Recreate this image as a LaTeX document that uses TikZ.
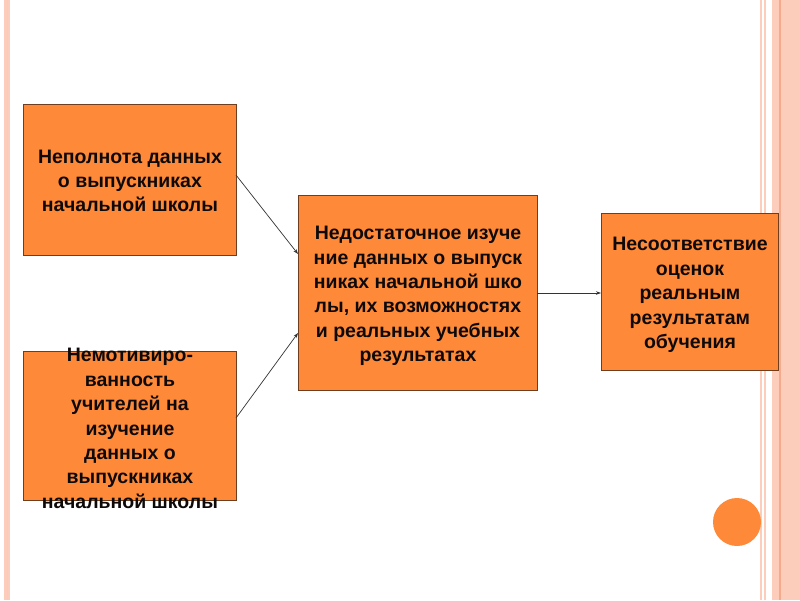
\documentclass[tikz,border=0pt]{standalone}
\usepackage{fontspec}
\setmainfont{Liberation Sans}
\usetikzlibrary{arrows.meta}
\definecolor{boxorange}{RGB}{254,137,56}
\definecolor{boxedge}{RGB}{110,62,30}
\definecolor{stripe}{RGB}{253,205,188}
\definecolor{stripedark}{RGB}{245,170,140}
\definecolor{txt}{RGB}{15,10,10}
\begin{document}
\begin{tikzpicture}[x=1pt,y=-1pt,
  box/.style={fill=boxorange,draw=boxedge,line width=0.9pt},
  label/.style={font=\bfseries\fontsize{19.5}{24.4}\selectfont,text=txt,align=center},
  conn/.style={draw=black!80,line width=0.7pt,-{Stealth[length=5pt,width=3.5pt]}}]
\useasboundingbox (0,0) rectangle (800,600);
\fill[white] (0,0) rectangle (800,600);
% borders
\fill[stripe] (4,0) rectangle (10,600);
\fill[stripedark!60] (6.5,0) rectangle (8,600);
\fill[stripe] (760,0) rectangle (762,600);
\fill[stripe] (764,0) rectangle (766,600);
\fill[stripe] (772,0) rectangle (800,600);
\fill[stripedark] (779,0) rectangle (781,600);
% boxes
\node[box,minimum width=213pt,minimum height=151pt,anchor=north west] (a) at (23,104) {};
\node[box,minimum width=213pt,minimum height=149pt,anchor=north west] (b) at (23,351) {};
\node[box,minimum width=239pt,minimum height=195pt,anchor=north west] (c) at (298,195) {};
\node[box,minimum width=177pt,minimum height=157pt,anchor=north west] (d) at (601,213) {};
\node[label] (ta) at ([yshift=-1pt]a.center) {Неполнота данных\\о выпускниках\\начальной школы};
\node[label] (tb) at ([yshift=-2.5pt]b.center) {Немотивиро-\\ванность\\учителей на\\изучение\\данных о\\выпускниках\\начальной школы};
\node[label] (tc) at ([yshift=-3pt]c.center) {Недостаточное изуче\\ние данных о выпуск\\никах начальной шко\\лы, их возможностях\\и реальных учебных\\результатах};
\node[label] (td) at ([yshift=-3pt]d.center) {Несоответствие\\оценок\\реальным\\результатам\\обучения};
% connectors
\coordinate (a1) at (236,175);
\coordinate (c1) at (298,254);
\coordinate (b1) at (236,418);
\coordinate (c2) at (298,333);
\coordinate (c3) at (537,293);
\coordinate (d1) at (601,293);
\draw[conn] (a1) -- (c1);
\draw[conn] (b1) -- (c2);
\draw[conn] (c3) -- (d1);
% circle
\fill[boxorange] (737,522) circle (24);
\end{tikzpicture}
\end{document}
